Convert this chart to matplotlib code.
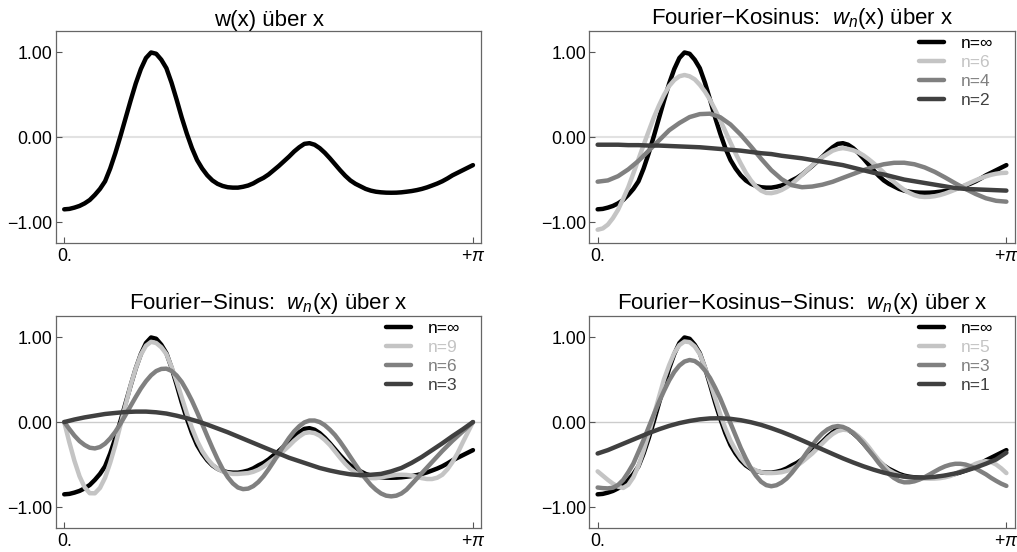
import numpy as np
import matplotlib
matplotlib.use("Agg")
import matplotlib.pyplot as plt

plt.rcParams["font.family"] = ["Liberation Sans", "DejaVu Sans"]
plt.rcParams["mathtext.fontset"] = "custom"
plt.rcParams["mathtext.rm"] = "Liberation Sans"
plt.rcParams["mathtext.it"] = "Liberation Sans:italic"

# sample positions as fraction of pi
t40 = np.linspace(0, 1, 41)   # step 0.025
t80 = np.linspace(0, 1, 81)   # step 0.0125

# w(x) (81 samples)
w = [-0.85, -0.845, -0.83, -0.81, -0.78, -0.74, -0.68, -0.61, -0.52, -0.37,
     -0.19, 0.01, 0.22, 0.43, 0.63, 0.80, 0.93, 0.995, 0.98, 0.91,
     0.81, 0.64, 0.44, 0.23, 0.04, -0.13, -0.27, -0.37, -0.45, -0.51,
     -0.55, -0.575, -0.59, -0.595, -0.595, -0.585, -0.57, -0.545, -0.51, -0.48,
     -0.44, -0.39, -0.34, -0.285, -0.23, -0.17, -0.12, -0.08, -0.072, -0.09,
     -0.13, -0.185, -0.25, -0.32, -0.39, -0.455, -0.51, -0.55, -0.58, -0.61,
     -0.63, -0.643, -0.65, -0.654, -0.655, -0.654, -0.65, -0.643, -0.635, -0.624,
     -0.61, -0.592, -0.57, -0.547, -0.52, -0.487, -0.45, -0.42, -0.39, -0.36,
     -0.33]

# Fourier-Kosinus
cos6 = [-1.09, -1.075, -1.03, -0.953, -0.855, -0.726, -0.59, -0.426, -0.26, -0.093,
        0.07, 0.23, 0.37, 0.496, 0.60, 0.671, 0.715, 0.73, 0.715, 0.679,
        0.615, 0.535, 0.438, 0.321, 0.197, 0.067, -0.065, -0.192, -0.31, -0.42,
        -0.51, -0.582, -0.63, -0.657, -0.66, -0.647, -0.623, -0.59, -0.55, -0.499,
        -0.445, -0.389, -0.335, -0.281, -0.235, -0.198, -0.16, -0.14, -0.13, -0.14,
        -0.155, -0.179, -0.214, -0.258, -0.307, -0.361, -0.418, -0.474, -0.528, -0.577,
        -0.621, -0.656, -0.683, -0.70, -0.705, -0.703, -0.695, -0.682, -0.664, -0.642,
        -0.618, -0.591, -0.563, -0.535, -0.508, -0.483, -0.462, -0.444, -0.431, -0.423,
        -0.42]
cos4 = [-0.525, -0.51, -0.46, -0.38, -0.28, -0.16, -0.04, 0.08, 0.165, 0.235,
        0.27, 0.275, 0.233, 0.148, 0.028, -0.11, -0.255, -0.39, -0.495, -0.566,
        -0.59, -0.582, -0.56, -0.526, -0.48, -0.435, -0.39, -0.35, -0.32, -0.303,
        -0.302, -0.32, -0.357, -0.41, -0.475, -0.544, -0.61, -0.67, -0.72, -0.75,
        -0.76]
cos2 = [-0.09, -0.09, -0.09, -0.095, -0.095, -0.10, -0.10, -0.105, -0.11, -0.115,
        -0.12, -0.13, -0.14, -0.15, -0.16, -0.175, -0.19, -0.20, -0.22, -0.235,
        -0.25, -0.27, -0.29, -0.31, -0.33, -0.36, -0.39, -0.42, -0.44, -0.47,
        -0.50, -0.52, -0.54, -0.56, -0.58, -0.60, -0.61, -0.615, -0.62, -0.625,
        -0.63]

# Fourier-Sinus
sin9 = [0.0, -0.238, -0.456, -0.638, -0.768, -0.837, -0.838, -0.775, -0.654, -0.478,
        -0.272, -0.037, 0.20, 0.433, 0.63, 0.793, 0.898, 0.944, 0.93, 0.88,
        0.80, 0.65, 0.48, 0.29, 0.10, -0.07, -0.22, -0.34, -0.43, -0.50,
        -0.55, -0.58, -0.60, -0.61, -0.61, -0.605, -0.60, -0.585, -0.56, -0.525,
        -0.48, -0.435, -0.39, -0.335, -0.28, -0.22, -0.17, -0.13, -0.12, -0.13,
        -0.16, -0.21, -0.27, -0.345, -0.42, -0.49, -0.55, -0.595, -0.63, -0.65,
        -0.66, -0.66, -0.65, -0.64, -0.63, -0.622, -0.62, -0.622, -0.63, -0.645,
        -0.66, -0.67, -0.67, -0.655, -0.62, -0.555, -0.47, -0.365, -0.24, -0.12,
        0.0]
sin6 = [0.0, -0.082, -0.16, -0.224, -0.27, -0.302, -0.31, -0.294, -0.254, -0.192,
        -0.115, -0.02, 0.083, 0.19, 0.295, 0.395, 0.48, 0.55, 0.60, 0.625,
        0.628, 0.602, 0.548, 0.472, 0.368, 0.251, 0.118, -0.022, -0.165, -0.304,
        -0.435, -0.552, -0.648, -0.721, -0.77, -0.789, -0.783, -0.754, -0.705, -0.638,
        -0.555, -0.464, -0.37, -0.276, -0.187, -0.11, -0.049, -0.004, 0.018, 0.018,
        0.0, -0.037, -0.09, -0.153, -0.232, -0.319, -0.41, -0.50, -0.585, -0.668,
        -0.74, -0.796, -0.84, -0.866, -0.874, -0.866, -0.84, -0.795, -0.73, -0.665,
        -0.60, -0.535, -0.47, -0.405, -0.34, -0.28, -0.22, -0.165, -0.11, -0.055,
        0.0]
sin3 = [0.0, 0.03, 0.055, 0.075, 0.095, 0.107, 0.118, 0.123, 0.123, 0.115,
        0.10, 0.075, 0.045, 0.01, -0.03, -0.075, -0.12, -0.17, -0.22, -0.27,
        -0.32, -0.37, -0.42, -0.46, -0.50, -0.54, -0.57, -0.595, -0.615, -0.625,
        -0.62, -0.61, -0.58, -0.54, -0.48, -0.41, -0.33, -0.25, -0.165, -0.085,
        0.0]

# Fourier-Kosinus-Sinus
cs5 = [-0.58, -0.63, -0.68, -0.725, -0.76, -0.775, -0.737, -0.649, -0.512, -0.336,
       -0.137, 0.078, 0.294, 0.504, 0.67, 0.812, 0.905, 0.948, 0.94, 0.89,
       0.80, 0.645, 0.47, 0.28, 0.09, -0.075, -0.22, -0.33, -0.42, -0.49,
       -0.54, -0.57, -0.59, -0.60, -0.60, -0.597, -0.59, -0.575, -0.55, -0.515,
       -0.47, -0.42, -0.37, -0.31, -0.25, -0.19, -0.14, -0.105, -0.09, -0.095,
       -0.12, -0.165, -0.22, -0.29, -0.37, -0.445, -0.51, -0.565, -0.60, -0.627,
       -0.645, -0.655, -0.66, -0.663, -0.665, -0.666, -0.665, -0.66, -0.65, -0.635,
       -0.61, -0.58, -0.55, -0.52, -0.49, -0.47, -0.46, -0.47, -0.50, -0.545,
       -0.60]
cs3 = [-0.77, -0.777, -0.78, -0.772, -0.74, -0.681, -0.59, -0.488, -0.35, -0.21,
       -0.06, 0.089, 0.235, 0.368, 0.49, 0.59, 0.665, 0.712, 0.73, 0.718,
       0.676, 0.607, 0.518, 0.404, 0.278, 0.133, -0.012, -0.158, -0.303, -0.429,
       -0.543, -0.632, -0.702, -0.742, -0.755, -0.743, -0.711, -0.664, -0.598, -0.521,
       -0.439, -0.353, -0.273, -0.196, -0.133, -0.086, -0.057, -0.047, -0.057, -0.084,
       -0.128, -0.184, -0.251, -0.327, -0.40, -0.48, -0.549, -0.611, -0.658, -0.692,
       -0.709, -0.708, -0.697, -0.676, -0.648, -0.615, -0.581, -0.548, -0.521, -0.502,
       -0.491, -0.491, -0.50, -0.52, -0.546, -0.581, -0.615, -0.656, -0.692, -0.725,
       -0.751]
cs1 = [-0.37, -0.33, -0.28, -0.23, -0.18, -0.13, -0.085, -0.045, -0.012, 0.013,
       0.032, 0.043, 0.045, 0.038, 0.022, -0.002, -0.033, -0.072, -0.115, -0.163,
       -0.215, -0.268, -0.322, -0.375, -0.427, -0.475, -0.52, -0.56, -0.595, -0.622,
       -0.642, -0.652, -0.653, -0.645, -0.628, -0.604, -0.573, -0.535, -0.49, -0.44,
       -0.36]

BLACK = "#000000"
LIGHT = "#c4c4c4"
MID = "#808080"
DARK = "#404040"

fig = plt.figure(figsize=(10.17, 5.52), dpi=100)

ax_w = 0.418
ax_h = 0.385
positions = [
    [0.0551, 0.5592, ax_w, ax_h],
    [0.5796, 0.5592, ax_w, ax_h],
    [0.0551, 0.0429, ax_w, ax_h],
    [0.5796, 0.0429, ax_w, ax_h],
]

panels = [
    ("w(x) über x", [(t80, w, BLACK, None)]),
    ("Fourier\u2212Kosinus:  $w_n$(x) über x",
     [(t80, w, BLACK, "n=\u221e"), (t80, cos6, LIGHT, "n=6"),
      (t40, cos4, MID, "n=4"), (t40, cos2, DARK, "n=2")]),
    ("Fourier\u2212Sinus:  $w_n$(x) über x",
     [(t80, w, BLACK, "n=\u221e"), (t80, sin9, LIGHT, "n=9"),
      (t80, sin6, MID, "n=6"), (t40, sin3, DARK, "n=3")]),
    ("Fourier\u2212Kosinus\u2212Sinus:  $w_n$(x) über x",
     [(t80, w, BLACK, "n=\u221e"), (t80, cs5, LIGHT, "n=5"),
      (t80, cs3, MID, "n=3"), (t40, cs1, DARK, "n=1")]),
]

for i, (pos, (title, curves)) in enumerate(zip(positions, panels)):
    ax = fig.add_axes(pos)
    if i < 2:
        ax.axhline(0, color="#e2e2e2", lw=1.5, zorder=0)
    else:
        ax.axhline(0, color="#cccccc", lw=1.0, zorder=0)

    for x, y, color, label in curves:
        ax.plot(np.pi * x, y, color=color, lw=3.2, label=label,
                solid_joinstyle="round", solid_capstyle="round")

    ax.set_xlim(-0.02 * np.pi, 1.02 * np.pi)
    ax.set_ylim(-1.25, 1.25)
    ax.set_xticks([0, np.pi])
    ax.set_xticklabels(["0.", "+$\\pi$"])
    ax.set_yticks([-1, 0, 1])
    ax.set_yticklabels(["\u22121.00", "0.00", "1.00"])
    ax.tick_params(direction="in", length=4, width=0.8, color="#555555",
                   labelsize=12.8)
    ax.tick_params(axis="x", pad=3.5)
    ax.tick_params(axis="y", pad=2.5)
    for sp in ax.spines.values():
        sp.set_color("#666666")
        sp.set_linewidth(0.9)
    ax.set_title(title, fontsize=16, pad=3)

    if i > 0:
        leg = ax.legend(frameon=False, loc="upper right", bbox_to_anchor=(0.962, 1.0),
                        fontsize=12.5, handlelength=1.45, handletextpad=0.95,
                        labelspacing=0.22, borderaxespad=0, borderpad=0.3)
        for txt, (_, _, color, _) in zip(leg.get_texts(), curves):
            txt.set_color(color)

fig.savefig("out.png", dpi=100)
